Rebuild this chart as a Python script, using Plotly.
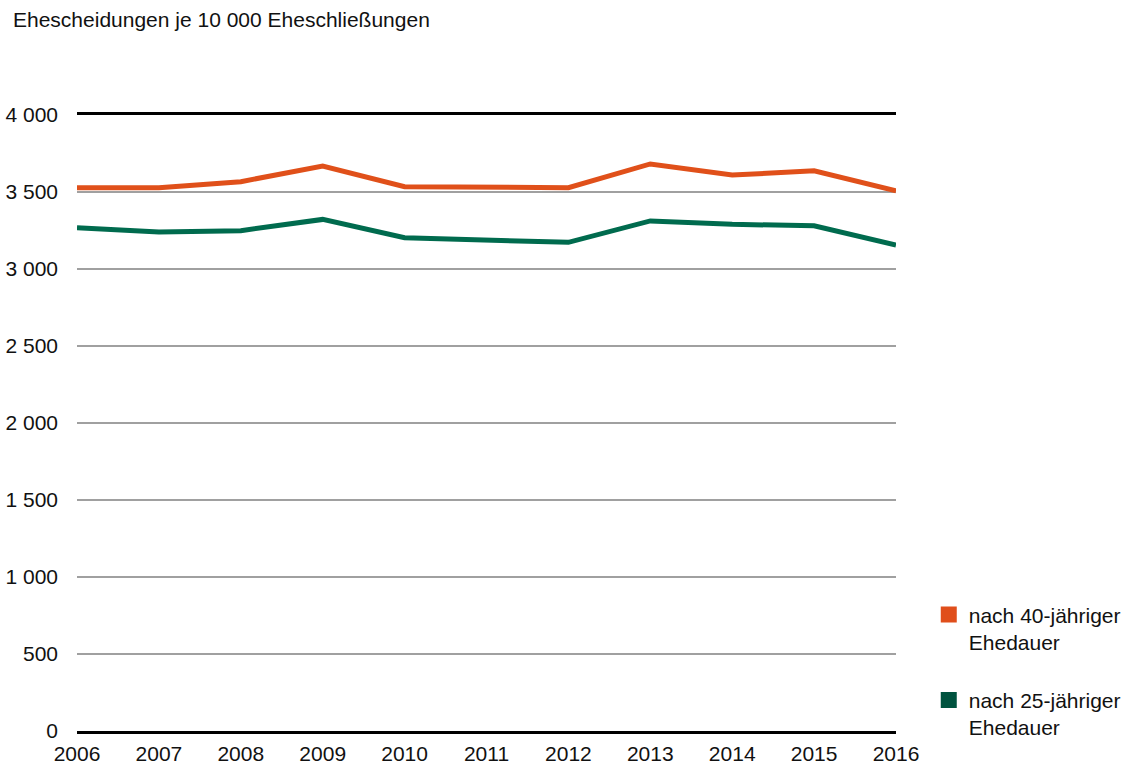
import plotly.graph_objects as go

years = [2006, 2007, 2008, 2009, 2010, 2011, 2012, 2013, 2014, 2015, 2016]
dauer40 = [3528, 3528, 3567, 3669, 3534, 3530, 3528, 3682, 3610, 3638, 3508]
dauer25 = [3268, 3240, 3249, 3322, 3203, 3192, 3173, 3312, 3290, 3281, 3156]
series_names = ["nach 40-jähriger<br>Ehedauer", "nach 25-jähriger<br>Ehedauer"]
y_ticks = [0, 500, 1000, 1500, 2000, 2500, 3000, 3500, 4000]
y_ticktext = ["0", "500", "1 000", "1 500", "2 000", "2 500", "3 000", "3 500", "4 000"]
title_text = "Ehescheidungen je 10 000 Eheschließungen"

line_colors = ["#E0501A", "#006B4E"]
legend_colors = ["#E04E1B", "#00533F"]
FONT = "Liberation Sans, Arial, sans-serif"

W, H = 1130, 767

fig = go.Figure()
for vals, col in zip([dauer40, dauer25], line_colors):
    fig.add_trace(go.Scatter(x=years, y=vals, mode="lines",
                             line=dict(color=col, width=5),
                             showlegend=False, hoverinfo="x+y"))
for i, (name, col) in enumerate(zip(series_names, legend_colors)):
    fig.add_trace(go.Scatter(x=[None], y=[None], mode="markers", name=name,
                             legendgroup=f"g{i}",
                             marker=dict(symbol="square", size=16, color=col)))

fig.update_layout(
    width=W, height=H,
    margin=dict(l=77, r=234, t=115, b=36, autoexpand=False),
    plot_bgcolor="white", paper_bgcolor="white",
    font=dict(family=FONT, size=21, color="#111111"),
    title=dict(text=title_text, xref="container", yref="container",
               x=13 / W, xanchor="left", y=1 - 12 / H, yanchor="top",
               font=dict(size=21, color="#111111")),
    legend=dict(x=1.04, xanchor="left", y=0.222, yanchor="top",
                valign="top", tracegroupgap=28,
                font=dict(size=21, color="#111111"),
                itemwidth=30, bgcolor="rgba(0,0,0,0)"),
    xaxis=dict(range=[2006, 2016], tickvals=years, ticktext=[str(y) for y in years],
               showgrid=False, zeroline=False, showline=True, mirror=True,
               linecolor="black", linewidth=3, ticks="", ticklabelstandoff=2,
               tickfont=dict(size=21), automargin=False),
    yaxis=dict(range=[0, 4000], tickvals=y_ticks, ticktext=y_ticktext,
               showgrid=True, gridcolor="#A0A0A0", gridwidth=2,
               zeroline=False, showline=False, ticks="", ticklabelstandoff=18,
               tickfont=dict(size=21), automargin=False),
)

fig.write_html("out.html",
               config={"displayModeBar": False},
               post_script="document.body.style.margin='0';document.body.style.overflow='hidden';")
